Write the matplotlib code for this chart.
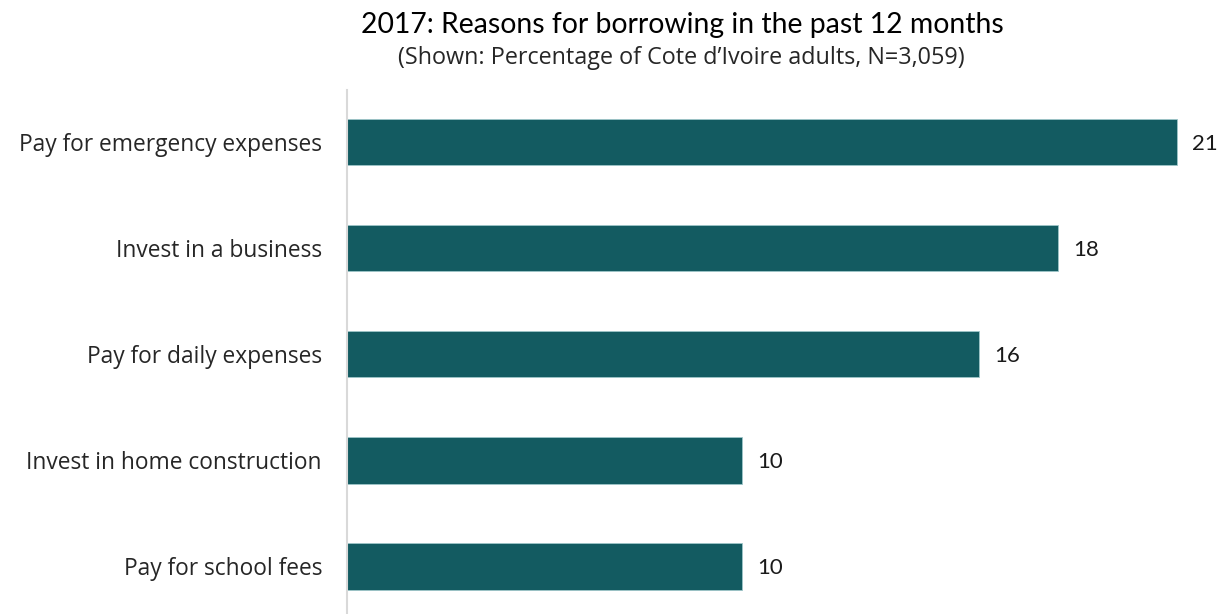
import matplotlib.pyplot as plt
import numpy as np

reasons = ['Pay for emergency expenses', 'Invest in a business', 'Pay for daily expenses',
           'Invest in home construction', 'Pay for school fees']
shares = [21, 18, 16, 10, 10]

bar_color = '#135B61'

fig = plt.figure(figsize=(12.2, 6.14), dpi=100)
ax = fig.add_axes([347 / 1220, 0, 873 / 1220, 524 / 614])

y = np.arange(len(reasons))
bars = ax.barh(y, shares, height=0.44, color=bar_color, edgecolor='#9ec6c9', linewidth=0.6)

ax.set_xlim(0, 22.09)
ax.set_ylim(4.45, -0.49)

for rect, v in zip(bars, shares):
    ax.annotate('{}'.format(v),
                xy=(rect.get_width(), rect.get_y() + rect.get_height() / 2),
                xytext=(11, -1.5), textcoords='offset points',
                ha='left', va='center', fontsize=16, family='Lato', color='#1a1a1a')

ax.set_yticks(y)
ax.set_yticklabels(reasons, family='Open Sans', fontsize=16.4, color='#262626')
ax.tick_params(axis='y', length=0, pad=18)
ax.set_xticks([])
for side in ['top', 'right', 'bottom']:
    ax.spines[side].set_visible(False)
ax.spines['left'].set_color('#d9d9d9')
ax.spines['left'].set_linewidth(1.5)

fig.text(682 / 1220, 1 - 25 / 614, '2017: Reasons for borrowing in the past 12 months',
         ha='center', va='center', fontsize=20.4, family='Lato', color='black')
fig.text(681 / 1220, 1 - 58 / 614, "(Shown: Percentage of Cote d\u2019Ivoire adults, N=3,059)",
         ha='center', va='center', fontsize=16.8, family='Open Sans', color='#262626')

fig.savefig('out.png', dpi=100)
